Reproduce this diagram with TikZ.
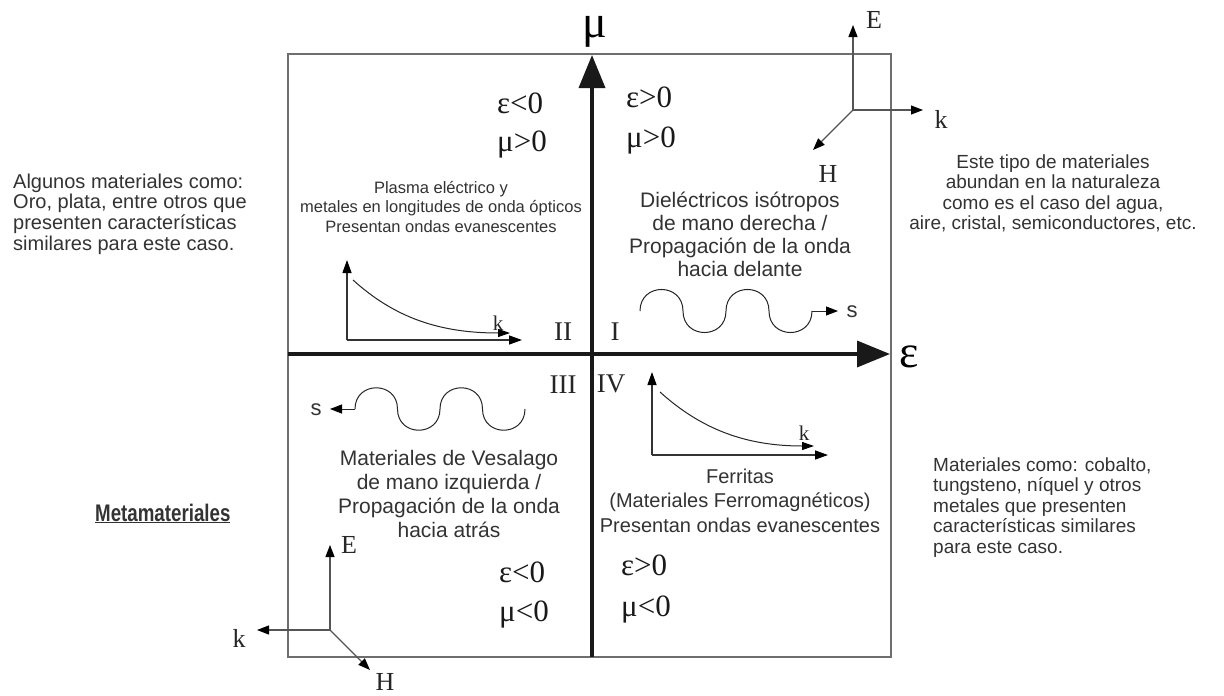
\documentclass[tikz,border=0pt]{standalone}
\usepackage{fontspec}
\setmainfont{Liberation Serif}
\setsansfont{Liberation Sans}
\usetikzlibrary{arrows.meta}
\newcommand\myfs[2]{\fontsize{#1pt}{#2pt}\selectfont}
\definecolor{txtgray}{HTML}{333333}
\definecolor{boxgray}{HTML}{6E6E6E}
\definecolor{axgray}{HTML}{555555}
\begin{document}
\begin{tikzpicture}[x=1pt,y=-1pt,
  boxline/.style={draw=boxgray,line width=1.4pt},
  mainax/.style={draw=black!90,line width=3.6pt,-{Triangle[length=33pt,width=26pt]}},
  thinarrow/.style={draw=axgray,line width=1.2pt,-{Triangle[length=12pt,width=9pt,color=black]}},
  plotax/.style={draw=black!80,line width=1.3pt,-{Triangle[length=13pt,width=9pt,color=black]}},
  wave/.style={draw=black!85,line width=1.0pt},
  biglbl/.style={inner sep=0pt,anchor=base,font=\myfs{46}{50}},
  sgnlbl/.style={inner sep=0pt,anchor=base west,text=black!90,font=\myfs{31}{33}},
  roman/.style={inner sep=0pt,anchor=base,text=black!85,font=\myfs{27}{30}},
  vecl/.style={inner sep=0pt,anchor=base,text=black!85,font=\myfs{26}{30}},
  kl/.style={inner sep=0pt,anchor=base,text=black!85,font=\myfs{21}{24}},
  sl/.style={inner sep=0pt,anchor=base,text=txtgray,font=\sffamily\myfs{22}{24}},
  sblock/.style={inner sep=0pt,anchor=base,text=txtgray,font=\sffamily},
]
\useasboundingbox (0,0) rectangle (1224,696);
\fill[white] (0,0) rectangle (1224,696);

% frame
\draw[boxline] (288,54) rectangle (891,657);

% main axes
\coordinate (epsL) at (288,354);
\coordinate (epsR) at (890,354);
\coordinate (muB) at (592,657);
\coordinate (muT) at (592,55);
\draw[mainax] (epsL) -- (epsR);
\draw[mainax] (muB) -- (muT);
\node[biglbl] (mu) at (595,37) {μ};
\node[biglbl] (eps) at (909,367) {ε};

% sign labels
\node[sgnlbl] (q2e) at (497,113) {ε<0};
\node[sgnlbl] (q2m) at (497,151) {μ>0};
\node[sgnlbl] (q1e) at (626,107) {ε>0};
\node[sgnlbl] (q1m) at (626,147) {μ>0};
\node[sgnlbl] (q3e) at (499,582) {ε<0};
\node[sgnlbl] (q3m) at (499,621) {μ<0};
\node[sgnlbl] (q4e) at (621,575) {ε>0};
\node[sgnlbl] (q4m) at (621,616) {μ<0};

% roman numerals
\node[roman] (rII) at (563,340) {II};
\node[roman] (rI) at (615,340) {I};
\node[roman] (rIII) at (563,393) {III};
\node[roman] (rIV) at (611,392) {IV};

% E-k-H top right
\coordinate (o1) at (853,110);
\coordinate (e1) at (853,25);
\coordinate (k1) at (923,110);
\coordinate (h1) at (813,150);
\draw[thinarrow] (o1) -- (e1);
\draw[thinarrow] (o1) -- (k1);
\draw[thinarrow] (o1) -- (h1);
\node[vecl] (E1) at (874,28) {E};
\node[vecl] (K1) at (941,128) {k};
\node[vecl] (H1) at (828,182) {H};

% E-k-H bottom left
\coordinate (o2) at (330,630);
\coordinate (e2) at (330,545);
\coordinate (k2) at (257,630);
\coordinate (h2) at (370,670);
\draw[thinarrow] (o2) -- (e2);
\draw[thinarrow] (o2) -- (k2);
\draw[thinarrow] (o2) -- (h2);
\node[vecl] (E2) at (349,553) {E};
\node[vecl] (K2) at (239,647) {k};
\node[vecl] (H2) at (385,690) {H};

% decay plot II
\coordinate (p2o) at (347,340);
\coordinate (p2v) at (347,260);
\coordinate (p2h) at (522,340);
\coordinate (c2s) at (353,280);
\coordinate (c2e) at (510,333);
\draw[plotax] (p2o) -- (p2v);
\draw[plotax] (p2o) -- (p2h);
\draw[wave,-{Triangle[length=12pt,width=8pt,color=black]}] (c2s) .. controls (395,318) and (440,333) .. (c2e);
\node[kl] (k2l) at (498,330) {k};

% decay plot IV
\coordinate (p4o) at (652,455);
\coordinate (p4v) at (652,372);
\coordinate (p4h) at (828,455);
\coordinate (c4s) at (660,392);
\coordinate (c4e) at (814,446);
\draw[plotax] (p4o) -- (p4v);
\draw[plotax] (p4o) -- (p4h);
\draw[wave,-{Triangle[length=12pt,width=8pt,color=black]}] (c4s) .. controls (702,430) and (747,446) .. (c4e);
\node[kl] (k4l) at (804,440) {k};

% wave I
\coordinate (w1s) at (640,311);
\coordinate (w1e) at (812,311);
\coordinate (w1t) at (838,311);
\draw[wave] (w1s) .. controls (640,282.3) and (683,282.3) .. (683,311)
  .. controls (683,339.7) and (726,339.7) .. (726,311)
  .. controls (726,282.3) and (769,282.3) .. (769,311)
  .. controls (769,339.7) and (812,339.7) .. (w1e);
\draw[wave,-{Triangle[length=12pt,width=9pt,color=black]}] (w1e) -- (w1t);
\node[sl] (s1) at (852,317) {s};

% wave III
\coordinate (w3s) at (355,409);
\coordinate (w3e) at (525,409);
\coordinate (w3t) at (330,409);
\draw[wave] (w3s) .. controls (355,380.7) and (397.5,380.7) .. (397.5,409)
  .. controls (397.5,437.3) and (440,437.3) .. (440,409)
  .. controls (440,380.7) and (482.5,380.7) .. (482.5,409)
  .. controls (482.5,437.3) and (525,437.3) .. (w3e);
\draw[wave,-{Triangle[length=12pt,width=9pt,color=black]}] (w3s) -- (w3t);
\node[sl] (s3) at (316,415) {s};

% text blocks
\node[sblock] (pl) at (441,193) {\myfs{16.5}{19.5}\begin{tabular}[t]{@{}c@{}}Plasma eléctrico y\\metales en longitudes de onda ópticos\\Presentan ondas evanescentes\end{tabular}};
\node[sblock] (q1t) at (740,207) {\myfs{21}{23}\begin{tabular}[t]{@{}c@{}}Dieléctricos isótropos\\de mano derecha /\\Propagación de la onda\\hacia delante\end{tabular}};
\node[sblock] (q3t) at (449,465) {\myfs{21}{24}\begin{tabular}[t]{@{}c@{}}Materiales de Vesalago\\de mano izquierda /\\Propagación de la onda\\hacia atrás\end{tabular}};
\node[sblock] (q4t) at (740,483) {\myfs{20}{24.5}\begin{tabular}[t]{@{}c@{}}Ferritas\\(Materiales Ferromagnéticos)\\Presentan ondas evanescentes\end{tabular}};
\node[sblock,anchor=base west] (lt) at (13,188) {\myfs{20}{20.8}\begin{tabular}[t]{@{}l@{}}Algunos materiales como:\\Oro, plata, entre otros que\\presenten características\\similares para este caso.\end{tabular}};
\node[sblock] (rt) at (1053,168) {\myfs{19}{20.5}\begin{tabular}[t]{@{}c@{}}Este tipo de materiales\\abundan en la naturaleza\\como es el caso del agua,\\aire, cristal, semiconductores, etc.\end{tabular}};
\node[sblock,anchor=base west] (rb) at (933,471) {\myfs{19}{20.5}\begin{tabular}[t]{@{}l@{}}Materiales como: cobalto,\\tungsteno, níquel y otros\\metales que presenten\\características similares\\para este caso.\end{tabular}};
\node[sblock,anchor=base west,text=black!80] (meta) at (95,521) {\scalebox{0.78}[1]{\myfs{24}{28}\bfseries\underline{Metamateriales}}};
\end{tikzpicture}
\end{document}
